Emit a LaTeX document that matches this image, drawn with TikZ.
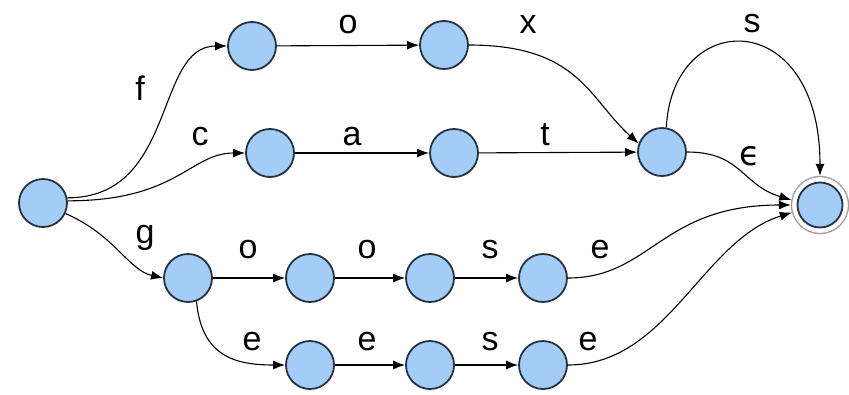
\documentclass[tikz,border=0pt]{standalone}
\usepackage{fontspec}
\setmainfont{Liberation Sans}
\newfontfamily\djv{DejaVu Sans}
\usetikzlibrary{arrows.meta}
\definecolor{nodeblue}{RGB}{163,205,246}
\definecolor{nodeedge}{RGB}{38,50,64}
\begin{document}
\begin{tikzpicture}[x=1pt,y=-1pt,
  st/.style={circle, minimum size=48pt, inner sep=0pt, fill=nodeblue, draw=nodeedge, line width=1.8pt},
  fin/.style={circle, minimum size=57pt, inner sep=0pt, fill=white, draw=gray!75, line width=1.3pt},
  lbl/.style={font=\fontsize{34}{40}\selectfont, anchor=base, inner sep=0pt},
  edge/.style={-{Latex[length=12pt,width=9pt]}, line width=1.1pt, black}]
\useasboundingbox (0,0) rectangle (849,394);
% states
\node[st] (S) at (43,203) {};
\node[st] (A1) at (252,46) {};
\node[st] (A2) at (444,45) {};
\node[st] (B1) at (270,153) {};
\node[st] (B2) at (454,153) {};
\node[st] (M) at (662,152) {};
\node[fin] (F) at (820,205) {};
\node[st, minimum size=45pt] (FI) at (F) {};
\node[st] (G) at (188,278) {};
\node[st] (G1) at (310,278) {};
\node[st] (G2) at (430,278) {};
\node[st] (G3) at (543,278) {};
\node[st] (E1) at (310,365) {};
\node[st] (E2) at (430,365) {};
\node[st] (E3) at (543,365) {};
% edges
\draw[edge] (S.12) .. controls +(110,0) and +(-73,0) .. (A1.west);
\draw[edge] (S.5) .. controls +(110,0) and +(-55,0) .. (B1.west);
\draw[edge] (S.-25) .. controls +(50,22) and +(-35,-8) .. (G.west);
\draw[edge] (A1) -- (A2);
\draw[edge] (A2.east) .. controls +(110,0) and +(-50,-45) .. (M.160);
\draw[edge] (B1) -- (B2);
\draw[edge] (B2) -- (M);
\draw[edge] (M.80) .. controls +(6,-120) and +(0,-170) .. (F.north);
\draw[edge] (M.east) .. controls +(55,0) and +(-50,-15) .. (F.170);
\draw[edge] (G) -- (G1);
\draw[edge] (G1) -- (G2);
\draw[edge] (G2) -- (G3);
\draw[edge] (G3.east) .. controls +(83,0) and +(-130,0) .. (F.west);
\draw[edge] (G.-70) .. controls +(5,55) and +(-50,0) .. (E1.west);
\draw[edge] (E1) -- (E2);
\draw[edge] (E2) -- (E3);
\draw[edge] (E3.east) .. controls +(100,0) and +(-90,28) .. (F.195);
% labels
\node[lbl] (lf) at (140,100) {f};
\node[lbl] (lc) at (200,145) {c};
\node[lbl] (la) at (352,145) {a};
\node[lbl] (lo1) at (348,33) {o};
\node[lbl] (lx) at (528,33) {x};
\node[lbl] (lt) at (545,145) {t};
\node[lbl] (ls1) at (752,32) {s};
\node[lbl] (leps) at (750,165) {\djv ϵ};
\node[lbl] (lg) at (145,243) {g};
\node[lbl] (lo2) at (248,258) {o};
\node[lbl] (lo3) at (367,258) {o};
\node[lbl] (ls2) at (490,258) {s};
\node[lbl] (le1) at (600,258) {e};
\node[lbl] (le2) at (252,350) {e};
\node[lbl] (le3) at (367,350) {e};
\node[lbl] (ls3) at (490,350) {s};
\node[lbl] (le4) at (588,350) {e};
\end{tikzpicture}
\end{document}
